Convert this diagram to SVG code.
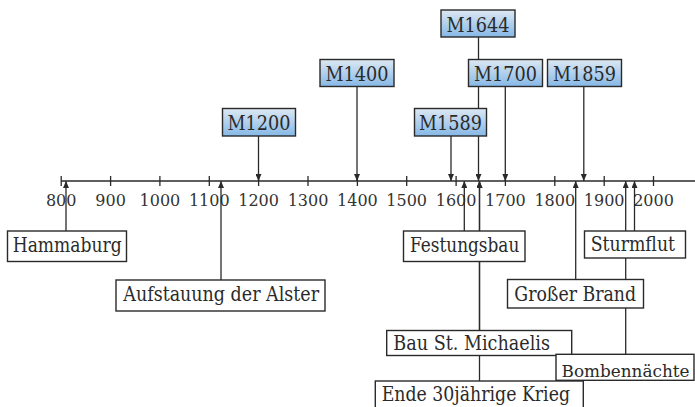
<svg xmlns="http://www.w3.org/2000/svg" width="695" height="407" viewBox="0 0 695 407" font-family="'DejaVu Serif', serif">
<defs>
<linearGradient id="mg" x1="0" y1="0" x2="0" y2="1">
<stop offset="0" stop-color="#dde8f2"/>
<stop offset="1" stop-color="#86b8e6"/>
</linearGradient>
<marker id="ah" markerUnits="userSpaceOnUse" markerWidth="7" markerHeight="6" refX="7" refY="3" orient="auto">
<path d="M0,0 L7,3 L0,6 Z" fill="#2a2a2a"/>
</marker>
<style>
.box{fill:#fff;stroke:#2a2a2a;stroke-width:1.4}
.mbox{fill:url(#mg);stroke:#2a2a2a;stroke-width:1.4}
.lbl{font-size:20px;fill:#2a2a2a}
.mlbl{font-size:20px;fill:#2a2a2a;text-anchor:middle}
.tl{font-size:16px;fill:#333;text-anchor:middle}
.con{stroke:#2a2a2a;stroke-width:1.3;fill:none;marker-end:url(#ah)}
.ax{stroke:#2a2a2a;stroke-width:1.3;fill:none}
</style>
</defs>
<rect width="695" height="407" fill="#fff"/>

<g id="axis">
<line class="ax" x1="61" y1="181" x2="695" y2="181"/>
<path class="ax" d="M61.2,176V186 M110.6,176V186 M159.9,176V186 M209.3,176V186 M258.6,176V186 M308,176V186 M357.4,176V186 M406.7,176V186 M456.1,176V186 M505.4,176V186 M554.8,176V186 M604.2,176V186 M653.5,176V186"/>
<text class="tl" x="61.2" y="205.5">800</text>
<text class="tl" x="110.6" y="205.5">900</text>
<text class="tl" x="159.9" y="205.5">1000</text>
<text class="tl" x="209.3" y="205.5">1100</text>
<text class="tl" x="258.6" y="205.5">1200</text>
<text class="tl" x="308" y="205.5">1300</text>
<text class="tl" x="357.4" y="205.5">1400</text>
<text class="tl" x="406.7" y="205.5">1500</text>
<text class="tl" x="456.1" y="205.5">1600</text>
<text class="tl" x="505.4" y="205.5">1700</text>
<text class="tl" x="554.8" y="205.5">1800</text>
<text class="tl" x="604.2" y="205.5">1900</text>
<text class="tl" x="653.5" y="205.5">2000</text>
</g>

<g id="connectors">
<line class="con" x1="478.5" y1="37" x2="478.5" y2="181"/>
<line class="con" x1="357" y1="86.5" x2="357" y2="181"/>
<line class="con" x1="505.3" y1="86.5" x2="505.3" y2="181"/>
<line class="con" x1="583.8" y1="86.5" x2="583.8" y2="181"/>
<line class="con" x1="258.5" y1="136" x2="258.5" y2="181"/>
<line class="con" x1="451" y1="136" x2="451" y2="181"/>
<line class="con" x1="66" y1="231" x2="66" y2="181"/>
<line class="con" x1="221" y1="280" x2="221" y2="181"/>
<line class="con" x1="464.3" y1="231" x2="464.3" y2="181"/>
<line class="con" x1="479.5" y1="330.5" x2="479.5" y2="181"/>
<line class="con" x1="479.5" y1="381" x2="479.5" y2="181"/>
<line class="con" x1="575.7" y1="279.5" x2="575.7" y2="181"/>
<line class="con" x1="625.7" y1="354.3" x2="625.7" y2="181"/>
<line class="con" x1="634.5" y1="231" x2="634.5" y2="181"/>
</g>

<g id="m1644"><rect class="mbox" x="441" y="10" width="74" height="27"/><text class="mlbl" x="478" y="31.5" textLength="63" lengthAdjust="spacingAndGlyphs">M1644</text></g>
<g id="m1400"><rect class="mbox" x="320" y="59.5" width="74" height="27"/><text class="mlbl" x="357" y="81" textLength="63" lengthAdjust="spacingAndGlyphs">M1400</text></g>
<g id="m1700"><rect class="mbox" x="468.5" y="59.5" width="74" height="27"/><text class="mlbl" x="505.5" y="81" textLength="63" lengthAdjust="spacingAndGlyphs">M1700</text></g>
<g id="m1859"><rect class="mbox" x="547.5" y="59.5" width="74" height="27"/><text class="mlbl" x="584.5" y="81" textLength="63" lengthAdjust="spacingAndGlyphs">M1859</text></g>
<g id="m1200"><rect class="mbox" x="222.5" y="108.5" width="73" height="27.5"/><text class="mlbl" x="259" y="130" textLength="63" lengthAdjust="spacingAndGlyphs">M1200</text></g>
<g id="m1589"><rect class="mbox" x="414.5" y="108.5" width="72" height="27.5"/><text class="mlbl" x="450.5" y="130" textLength="63" lengthAdjust="spacingAndGlyphs">M1589</text></g>

<g id="hammaburg"><rect class="box" x="7.5" y="231" width="119" height="30.5"/><text class="lbl" x="12.7" y="252" textLength="109" lengthAdjust="spacingAndGlyphs">Hammaburg</text></g>
<g id="aufstauung"><rect class="box" x="116" y="280" width="209" height="31"/><text class="lbl" x="123.3" y="300.5" textLength="195.7" lengthAdjust="spacingAndGlyphs">Aufstauung der Alster</text></g>
<g id="festungsbau"><rect class="box" x="403.5" y="231" width="121.5" height="30.5"/><text class="lbl" x="410" y="252" textLength="109.3" lengthAdjust="spacingAndGlyphs">Festungsbau</text></g>
<g id="sturmflut"><rect class="box" x="584.5" y="231" width="101" height="27"/><text class="lbl" x="590.7" y="250.7" textLength="84.3" lengthAdjust="spacingAndGlyphs">Sturmflut</text></g>
<g id="grosser-brand"><rect class="box" x="507.5" y="279.5" width="136" height="28.5"/><text class="lbl" x="514.3" y="300.7" textLength="121.7" lengthAdjust="spacingAndGlyphs">Großer Brand</text></g>
<g id="bau-st-michaelis"><rect class="box" x="386.7" y="330.5" width="185" height="25"/><text class="lbl" x="393.3" y="350.3" textLength="156.7" lengthAdjust="spacingAndGlyphs">Bau St. Michaelis</text></g>
<g id="ende-krieg"><rect class="box" x="375.3" y="381" width="208" height="32"/><text class="lbl" x="381.7" y="401" textLength="188.3" lengthAdjust="spacingAndGlyphs">Ende 30jährige Krieg</text></g>
<g id="bombennaechte"><rect class="box" x="556" y="354.3" width="138" height="26"/><text class="lbl" x="561.5" y="376.5" style="font-size:17px" textLength="128" lengthAdjust="spacingAndGlyphs">Bombennächte</text></g>
</svg>
